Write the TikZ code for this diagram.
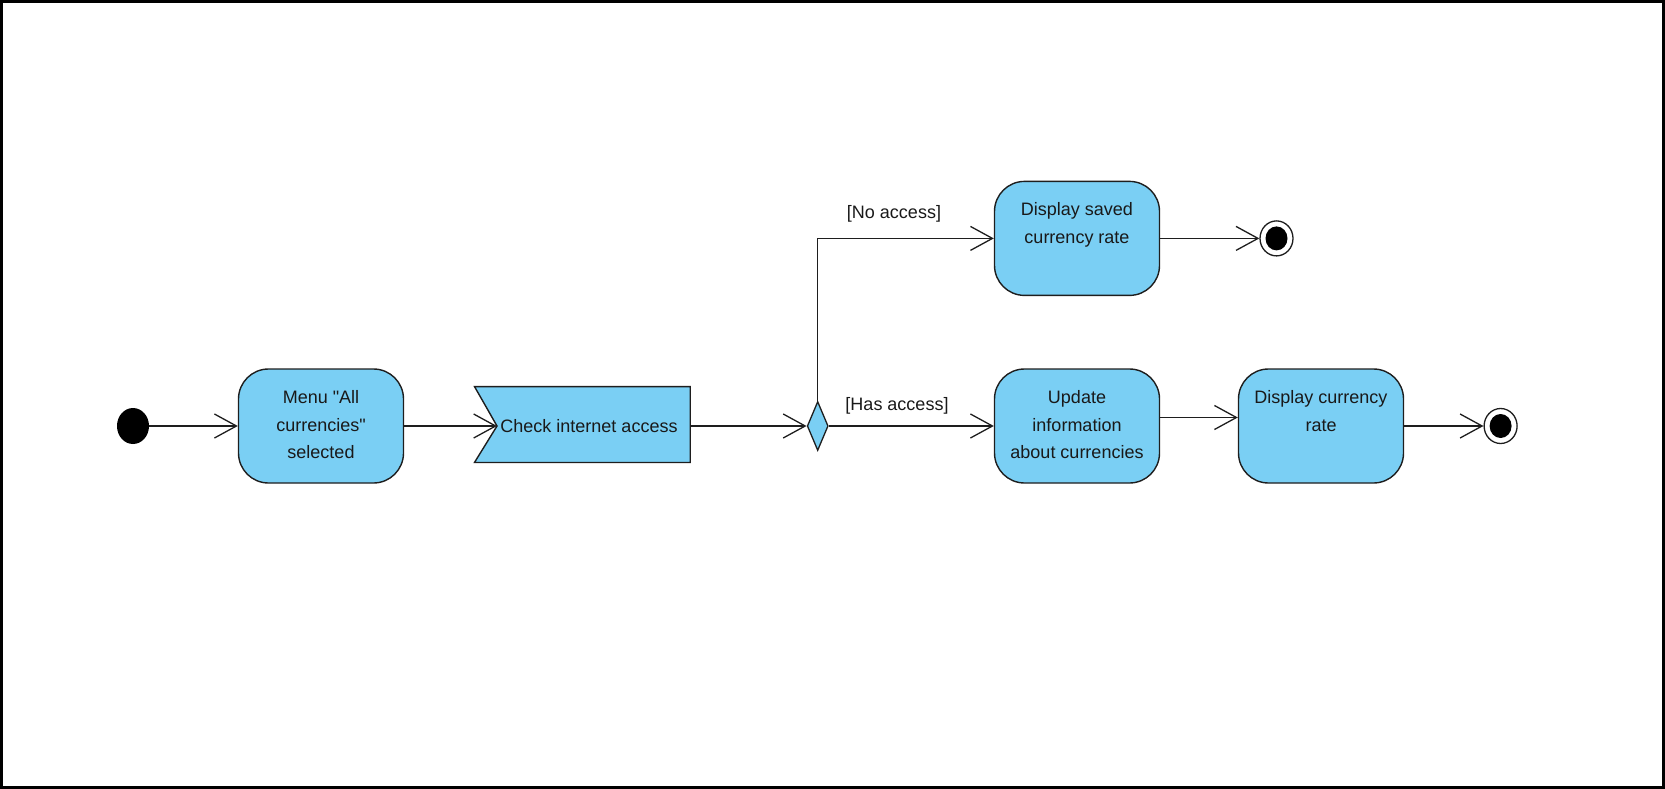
\documentclass[tikz,border=0pt]{standalone}
\usepackage{fontspec}
\setmainfont{Liberation Sans}
\usetikzlibrary{arrows.meta,shapes.geometric,calc}
\definecolor{actblue}{RGB}{122,207,244}
\definecolor{edgecol}{RGB}{30,30,30}
\begin{document}
\begin{tikzpicture}[x=1pt,y=-1pt,
  act/.style={draw=edgecol, fill=actblue, line width=1.4pt, rounded corners=30pt,
    minimum width=165pt, minimum height=114pt, inner sep=0pt},
  txt/.style={font=\fontsize{18}{27.6}\selectfont, align=center, inner sep=0pt, text=black!90},
  flow/.style={draw=edgecol, line width=1.3pt,
    -{Straight Barb[length=22pt,width=24pt,line width=1.3pt]}},
  initst/.style={ellipse, fill=black, minimum width=32pt, minimum height=36pt, inner sep=0pt},
  finalst/.style={ellipse, draw=edgecol, line width=1.3pt, fill=white, minimum width=33pt,
    minimum height=35pt, inner sep=0pt,
    path picture={\fill[black] (path picture bounding box.center) ellipse (11pt and 12pt);}},
  decst/.style={diamond, draw=edgecol, fill=actblue, line width=1.3pt, minimum width=21pt,
    minimum height=49pt, inner sep=0pt},
]
\useasboundingbox (0,0) rectangle (1665,789);
\draw[line width=3pt] (1.5,1.5) rectangle (1663.5,787.5);

% nodes
\node[initst] (init) at (133,426) {};
\node[act] (menu) at (321,426) {};
\node[txt, anchor=north] (menut) at ([yshift=-22pt]menu.north) {Menu \textquotedbl All\\currencies\textquotedbl\\selected};

\node[minimum width=215.3pt, minimum height=75.5pt, inner sep=0pt] (check) at (582.35,424.5) {};
\coordinate (checkin) at (497,426);
\draw[fill=actblue, draw=edgecol, line width=1.4pt] (check.north west) -- (check.north east)
  -- (check.south east) -- (check.south west) -- (checkin) -- cycle;
\node[txt] (checkt) at (589,426) {Check internet access};

\node[decst] (dec) at (817.7,426) {};

\node[act] (saved) at (1077,238.4) {};
\node[txt, anchor=north] (savedt) at ([yshift=-22pt]saved.north) {Display saved\\currency rate};
\node[finalst] (fin1) at (1276.5,238.4) {};

\node[act] (update) at (1077,426) {};
\node[txt, anchor=north] (updatet) at ([yshift=-22pt]update.north) {Update\\information\\about currencies};

\node[act] (disp) at (1321,426) {};
\node[txt, anchor=north] (dispt) at ([yshift=-22pt]disp.north) {Display currency\\rate};
\node[finalst] (fin2) at (1500.6,426) {};

% labels
\node[txt] (noacc) at (894,214) {[No access]};
\node[txt] (hasacc) at (897,405.5) {[Has access]};

% connectors
\draw[flow] (init.east) -- (menu.west);
\draw[flow] (menu.east) -- (checkin);
\draw[flow] (check.east |- dec.west) -- (dec.west);
\draw[flow] (dec.east) -- (update.west);
\draw[flow] (dec.north) |- (saved.west);
\draw[flow] (saved.east) -- (fin1.west);
\draw[flow] ([yshift=8.5pt]update.east) -- ([yshift=8.5pt]disp.west);
\draw[flow] (disp.east) -- (fin2.west);
\end{tikzpicture}
\end{document}
